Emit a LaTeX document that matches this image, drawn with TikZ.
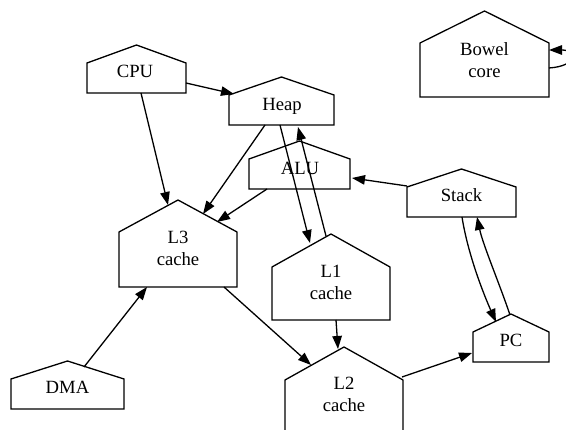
\documentclass[tikz,border=0pt]{standalone}
\usepackage{fontspec}
\setmainfont{Liberation Serif}
\usetikzlibrary{arrows.meta}
\begin{document}
\begin{tikzpicture}[x=1pt,y=-1pt,
  hs/.style={draw=black,line width=1.3pt,line join=miter},
  lbl/.style={font=\fontsize{18.67}{22}\selectfont,inner sep=0pt,align=center},
  edge/.style={line width=1.3pt,-{Triangle[length=13pt,width=9.5pt]}}]
\useasboundingbox (0,0) rectangle (566,430);
\fill[white] (0,0) rectangle (566,430);
% houses: left, right, peak, shoulder, bottom
\draw[hs] (420,97) -- (420,43) -- (484.5,11) -- (549,43) -- (549,97) -- cycle;
\draw[hs] (87,93) -- (87,63) -- (136.5,45) -- (186,63) -- (186,93) -- cycle;
\draw[hs] (229,125) -- (229,95) -- (281.5,77) -- (334,95) -- (334,125) -- cycle;
\draw[hs] (249,189) -- (249,159) -- (299.5,141) -- (350,159) -- (350,189) -- cycle;
\draw[hs] (407,217) -- (407,187) -- (461.5,169) -- (516,187) -- (516,217) -- cycle;
\draw[hs] (119,287) -- (119,232) -- (178,200) -- (237,232) -- (237,287) -- cycle;
\draw[hs] (272,320) -- (272,267) -- (331,234) -- (390,267) -- (390,320) -- cycle;
\draw[hs] (473,362) -- (473,332) -- (511,314) -- (549,332) -- (549,362) -- cycle;
\draw[hs] (285,433) -- (285,380) -- (344,347) -- (403,380) -- (403,433) -- cycle;
\draw[hs] (11,409) -- (11,379) -- (67.5,361) -- (124,379) -- (124,409) -- cycle;
% labels
\node[lbl] (bowel) at (484.5,60) {Bowel\\core};
\node[lbl,anchor=base] (cpu) at (135,77.7) {CPU};
\node[lbl,anchor=base] (heap) at (282,110.7) {Heap};
\node[lbl,anchor=base] (alu) at (300,175) {ALU};
\node[lbl,anchor=base] (stack) at (461.5,201.7) {Stack};
\node[lbl] (l3) at (178,248) {L3\\cache};
\node[lbl] (l1) at (331,282) {L1\\cache};
\node[lbl] (l2) at (344,394) {L2\\cache};
\node[lbl,anchor=base] (pc) at (511,346.7) {PC};
\node[lbl,anchor=base] (dma) at (67.5,394) {DMA};
% connector end points on the house borders
\coordinate (cpu-r) at (186,83);   \coordinate (heap-l) at (234,94);
\coordinate (cpu-b) at (141,93);   \coordinate (l3-t1) at (168,205);
\coordinate (heap-b1) at (265,125); \coordinate (l3-t2) at (203,214);
\coordinate (alu-b) at (267,189);  \coordinate (l3-t3) at (217,222);
\coordinate (heap-b2) at (280,125); \coordinate (l1-t1) at (310,243);
\coordinate (l1-t2) at (326,236);  \coordinate (heap-b3) at (298,127);
\coordinate (stack-l) at (407,186); \coordinate (alu-r) at (352,178);
\coordinate (stack-b1) at (462,217); \coordinate (pc-t1) at (496,322);
\coordinate (pc-t2) at (510,315);  \coordinate (stack-b2) at (477,217);
\coordinate (l3-b) at (224,287);   \coordinate (l2-t1) at (311,365);
\coordinate (l1-b) at (336,320);   \coordinate (l2-t2) at (338,349);
\coordinate (l2-r) at (402,377);   \coordinate (pc-l) at (472,353);
\coordinate (dma-t) at (84,367);   \coordinate (l3-b2) at (147,287);
\coordinate (bowel-r1) at (549,68); \coordinate (bowel-r2) at (549,50);
% connectors
\draw[edge] (cpu-r) -- (heap-l);
\draw[edge] (cpu-b) -- (l3-t1);
\draw[edge] (heap-b1) -- (l3-t2);
\draw[edge] (alu-b) -- (l3-t3);
\draw[edge] (heap-b2) -- (l1-t1);
\draw[edge] (l1-t2) -- (heap-b3);
\draw[edge] (stack-l) -- (alu-r);
\draw[edge] (stack-b1) .. controls (468,255) and (484,295) .. (pc-t1);
\draw[edge] (pc-t2) .. controls (500,285) and (483,245) .. (stack-b2);
\draw[edge] (l3-b) -- (l2-t1);
\draw[edge] (l1-b) -- (l2-t2);
\draw[edge] (l2-r) -- (pc-l);
\draw[edge] (dma-t) -- (l3-b2);
\draw[edge] (bowel-r1) .. controls (578,66) and (578,50) .. (bowel-r2);
\end{tikzpicture}
\end{document}
